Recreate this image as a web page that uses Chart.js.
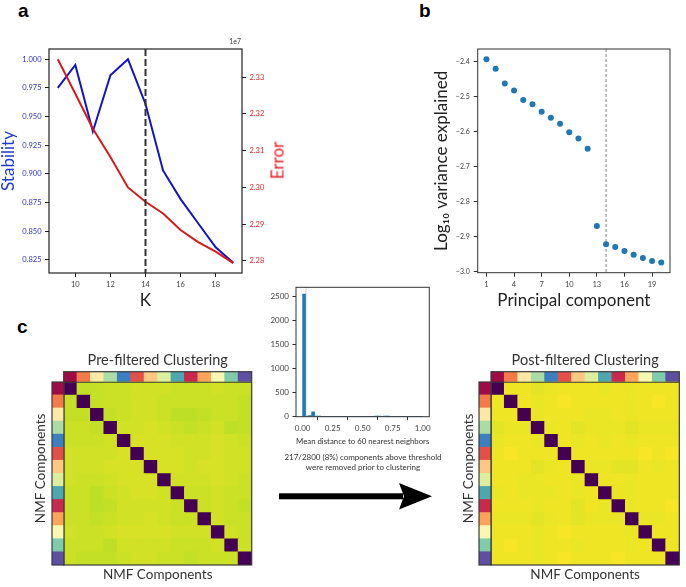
<!DOCTYPE html>
<html>
<head>
<meta charset="utf-8">
<script src="https://cdn.jsdelivr.net/npm/chart.js"></script>
<style>
  html, body { margin: 0; padding: 0; background: #fff; }
  #fig { position: relative; width: 686px; height: 587px; overflow: hidden; font-family: Lato, sans-serif; color: #222; }
  #fig canvas, #fig .txt, #fig svg { position: absolute; }
  .letter { font-family: 'Liberation Sans', Arial, sans-serif; font-weight: bold; font-size: 19px; line-height: 19px; color: #000; }
</style>
</head>
<body>
<div id="fig">
  <div class="txt letter" style="left:18px;top:1px">a</div>
  <div class="txt letter" style="left:419px;top:1px">b</div>
  <div class="txt letter" style="left:17px;top:317px">c</div>

  <canvas id="stab" width="300" height="285" style="left:0;top:30px"></canvas>
  <div class="txt" style="left:200px;top:37px;width:41px;text-align:right;font-size:7px;color:#444">1e7</div>
  <div class="txt" style="left:246px;top:150px;width:62px;text-align:center;font-size:17px;line-height:21px;color:#e41f26;transform:rotate(-90deg)">Error</div>

  <canvas id="pca" width="286" height="285" style="left:400px;top:30px"></canvas>

  <canvas id="hist" width="200" height="175" style="left:240px;top:275px"></canvas>
  <div class="txt" style="left:262px;top:453px;width:202px;text-align:center;font-size:8px;line-height:9.5px;color:#333">217/2800 (8%) components above threshold<br>were removed prior to clustering</div>

  <svg width="165" height="34" style="left:275px;top:480px">
    <rect x="4" y="13.3" width="124" height="6" fill="#000"/>
    <polygon points="124,3 157,16.3 124,29.6 129,16.3" fill="#000"/>
  </svg>

  <canvas id="preHeat" width="230" height="242" style="left:30px;top:345px"></canvas>
  <canvas id="preRows" width="14" height="185" style="left:51px;top:381px"></canvas>
  <canvas id="postHeat" width="231" height="242" style="left:455px;top:345px"></canvas>
  <canvas id="postRows" width="14" height="185" style="left:478px;top:381px"></canvas>
</div>

<script>
// ---- panel a: NMF stability / reconstruction error vs K
const kValues = [9, 10, 11, 12, 13, 14, 15, 16, 17, 18, 19];
const stability = [0.975, 0.995, 0.937, 0.986, 1.000, 0.961, 0.903, 0.878, 0.857, 0.836, 0.8225];
const reconError = [23349000, 23255000, 23160000, 23083000, 23000000, 22961000, 22929000, 22884000, 22851000, 22825000, 22794000];
const kTicks = [10, 12, 14, 16, 18];
const stabTicks = [0.825, 0.850, 0.875, 0.900, 0.925, 0.950, 0.975, 1.000];
const errTicks = [22800000, 22900000, 23000000, 23100000, 23200000, 23300000];
const kChosen = 14;

// ---- panel b: PCA log10 variance explained
const pcIndex = [1, 2, 3, 4, 5, 6, 7, 8, 9, 10, 11, 12, 13, 14, 15, 16, 17, 18, 19, 20];
const logVar = [-2.394, -2.421, -2.463, -2.483, -2.510, -2.522, -2.544, -2.561, -2.578, -2.602,
                -2.620, -2.649, -2.869, -2.921, -2.929, -2.940, -2.951, -2.960, -2.969, -2.973];
const pcTicks = [1, 4, 7, 10, 13, 16, 19];
const logVarTicks = [-3.0, -2.9, -2.8, -2.7, -2.6, -2.5, -2.4];
const pcCut = 14;

// ---- panel c: histogram of mean distance to nearest neighbours
const histCenters = [0.0125, 0.0375, 0.0625, 0.0875, 0.1125, 0.1375, 0.1625, 0.1875, 0.2125, 0.2375,
                     0.2625, 0.2875, 0.3125, 0.3375, 0.3625, 0.3875, 0.4125, 0.4375, 0.4625, 0.4875,
                     0.5125, 0.5375, 0.5625, 0.5875, 0.6125, 0.6375, 0.6625, 0.6875, 0.7125, 0.7375,
                     0.7625, 0.7875, 0.8125, 0.8375, 0.8625, 0.8875, 0.9125, 0.9375, 0.9625, 0.9875];
const histCounts = [2555, 8, 22, 100, 14, 4, 0, 0, 0, 0,
                    0, 0, 0, 0, 0, 0, 0, 0, 0, 0,
                    0, 0, 0, 0, 3, 5, 0, 4, 2, 0,
                    0, 0, 0, 0, 0, 0, 0, 0, 0, 0];
const histXTicks = [0, 0.25, 0.5, 0.75, 1.0];
const histYTicks = [0, 500, 1000, 1500, 2000, 2500];
const distThreshold = 0.028;

// ---- panel c: clustering distance matrices (x100), rows top to bottom
const componentIds = ['1', '2', '3', '4', '5', '6', '7', '8', '9', '10', '11', '12', '13', '14'];
const clusterColors = ['#9e0b45', '#f57a4a', '#fde9a6', '#acdca5', '#3b7fc0', '#e2504a', '#fdc882',
                       '#dcef9e', '#4ea7ae', '#c8294c', '#fca55a', '#f8f8b2', '#7fcbab', '#5e4fa2'];
const preMatrix = [
  [0, 91, 91, 92, 92, 93, 93, 93, 92, 92, 92, 93, 92, 92],
  [91, 0, 91, 92, 92, 93, 93, 92, 92, 92, 92, 92, 92, 91],
  [91, 91, 0, 91, 92, 93, 93, 92, 90, 90, 91, 92, 92, 91],
  [92, 92, 91, 0, 93, 93, 94, 93, 92, 91, 92, 93, 90, 91],
  [92, 92, 92, 93, 0, 94, 94, 94, 93, 93, 93, 94, 93, 92],
  [93, 93, 93, 93, 94, 0, 94, 94, 94, 93, 93, 94, 93, 93],
  [93, 93, 93, 94, 94, 94, 0, 94, 94, 93, 94, 94, 93, 93],
  [93, 92, 92, 93, 94, 94, 94, 0, 93, 93, 93, 94, 93, 92],
  [92, 92, 90, 92, 93, 94, 94, 93, 0, 92, 92, 93, 92, 92],
  [92, 92, 90, 91, 93, 93, 93, 93, 92, 0, 92, 93, 92, 91],
  [92, 92, 91, 92, 93, 93, 94, 93, 92, 92, 0, 93, 92, 92],
  [93, 92, 92, 93, 94, 94, 94, 94, 93, 93, 93, 0, 93, 92],
  [92, 92, 92, 90, 93, 93, 93, 93, 92, 92, 92, 93, 0, 92],
  [92, 91, 91, 91, 92, 93, 93, 92, 92, 91, 92, 92, 92, 0]
];
const postMatrix = [
  [0, 98, 98, 96, 97, 98, 98, 98, 97, 98, 97, 98, 98, 98],
  [98, 0, 98, 97, 98, 99, 98, 98, 98, 98, 97, 98, 99, 98],
  [98, 98, 0, 97, 98, 98, 98, 97, 97, 98, 97, 98, 98, 98],
  [96, 97, 97, 0, 97, 98, 96, 97, 97, 97, 96, 97, 97, 97],
  [97, 98, 98, 97, 0, 98, 97, 98, 97, 98, 97, 98, 98, 98],
  [98, 99, 98, 98, 98, 0, 98, 98, 98, 98, 98, 99, 98, 99],
  [98, 98, 98, 96, 97, 98, 0, 97, 97, 96, 96, 98, 97, 98],
  [98, 98, 97, 97, 98, 98, 97, 0, 98, 98, 97, 98, 98, 98],
  [97, 98, 97, 97, 97, 98, 97, 98, 0, 97, 97, 98, 98, 98],
  [98, 98, 98, 97, 98, 98, 96, 98, 97, 0, 97, 98, 98, 99],
  [97, 97, 97, 96, 97, 98, 96, 97, 97, 97, 0, 97, 97, 98],
  [98, 98, 98, 97, 98, 99, 98, 98, 98, 98, 97, 0, 98, 98],
  [98, 99, 98, 97, 98, 98, 97, 98, 98, 98, 97, 98, 0, 98],
  [98, 98, 98, 97, 98, 99, 98, 98, 98, 99, 98, 98, 98, 0]
];

Chart.defaults.font.family = 'Lato, sans-serif';
Chart.defaults.animation = false;
Chart.defaults.responsive = false;
Chart.defaults.devicePixelRatio = 1;
Chart.defaults.events = [];
Chart.defaults.plugins.legend.display = false;
Chart.defaults.plugins.tooltip.enabled = false;

const viridisStops = ['#440154', '#482475', '#414487', '#355f8d', '#2a788e', '#21918c',
                      '#22a884', '#44bf70', '#7ad151', '#bddf26', '#fde725'];
function viridis(t) {
  const p = Math.max(0, Math.min(1, t)) * 10;
  const i = Math.min(9, Math.floor(p)), f = p - i;
  const a = viridisStops[i], b = viridisStops[i + 1];
  const ch = (c, k) => parseInt(c.substr(1 + 2 * k, 2), 16);
  const mix = k => Math.round(ch(a, k) + (ch(b, k) - ch(a, k)) * f);
  return `rgb(${mix(0)},${mix(1)},${mix(2)})`;
}

const fixTicks = vals => s => { s.ticks = vals.map(v => ({ value: v })); };
const minus = s => s.replace('-', '\u2212');

// box around the plot area (matplotlib style)
const framePlugin = {
  id: 'frame',
  afterDraw(chart, args, opts) {
    const a = chart.chartArea, ctx = chart.ctx;
    ctx.save();
    ctx.strokeStyle = opts.color || '#222';
    ctx.lineWidth = opts.width || 1;
    ctx.strokeRect(a.left, a.top, a.right - a.left, a.bottom - a.top);
    if (opts.splitY !== undefined) {
      const y = chart.scales.y.getPixelForValue(opts.splitY);
      ctx.beginPath();
      ctx.moveTo(a.left, y);
      ctx.lineTo(a.right, y);
      ctx.stroke();
    }
    ctx.restore();
  }
};

// vertical reference line at an x value
function drawVline(chart, opts) {
  const a = chart.chartArea, ctx = chart.ctx;
  const x = chart.scales.x.getPixelForValue(opts.value);
  ctx.save();
  ctx.strokeStyle = opts.color;
  ctx.lineWidth = opts.width;
  ctx.setLineDash(opts.dash || []);
  ctx.beginPath();
  ctx.moveTo(x, a.top);
  ctx.lineTo(x, a.bottom);
  ctx.stroke();
  ctx.restore();
}
const vlinePlugin = {
  id: 'vline',
  beforeDatasetsDraw(chart, args, opts) { if (opts.behind) drawVline(chart, opts); },
  afterDatasetsDraw(chart, args, opts) { if (!opts.behind) drawVline(chart, opts); }
};

// ---- panel a
new Chart(document.getElementById('stab'), {
  type: 'line',
  data: {
    datasets: [
      {
        label: 'Error',
        data: kValues.map((k, i) => ({ x: k, y: reconError[i] })),
        yAxisID: 'y2', borderColor: '#d81a1a', borderWidth: 2, pointRadius: 0, tension: 0, order: 0
      },
      {
        label: 'Stability',
        data: kValues.map((k, i) => ({ x: k, y: stability[i] })),
        yAxisID: 'y', borderColor: '#1212c8', borderWidth: 2, pointRadius: 0, tension: 0, order: 1
      }
    ]
  },
  options: {
    layout: { padding: { top: 19 } },
    plugins: {
      frame: { color: '#222', width: 1.2 },
      vline: { value: kChosen, color: '#333', width: 2, dash: [7, 3] }
    },
    scales: {
      x: {
        type: 'linear', min: 8.5, max: 19.5,
        afterBuildTicks: fixTicks(kTicks),
        afterFit: s => { s.height = 42; },
        ticks: { font: { size: 7.5 }, color: '#444', padding: 3.5, autoSkip: false, maxRotation: 0 },
        grid: { drawOnChartArea: false, tickLength: 4, color: '#222' },
        border: { display: false },
        title: { display: true, text: 'K', color: '#222', font: { size: 17, lineHeight: 1.2 }, padding: { top: 0, bottom: 4.7 } }
      },
      y: {
        position: 'left', min: 0.8136, max: 1.0089,
        afterBuildTicks: fixTicks(stabTicks),
        afterFit: s => { s.width = 49; },
        ticks: { font: { size: 7.5 }, color: '#3030d0', padding: 3.5, callback: v => v.toFixed(3) },
        grid: { drawOnChartArea: false, tickLength: 4, color: '#222' },
        border: { display: false },
        title: { display: true, text: 'Stability', color: '#1f3ad0', font: { size: 17, lineHeight: 1 }, padding: { top: 0, bottom: 0 } }
      },
      y2: {
        position: 'right', min: 22767000, max: 23377000,
        afterBuildTicks: fixTicks(errTicks),
        afterFit: s => { s.width = 58; },
        ticks: { font: { size: 7.5 }, color: '#e0262b', padding: 3.5, callback: v => (v / 1e7).toFixed(2) },
        grid: { drawOnChartArea: false, tickLength: 4, color: '#222' },
        border: { display: false }
      }
    }
  },
  plugins: [framePlugin, vlinePlugin]
});

// ---- panel b
new Chart(document.getElementById('pca'), {
  type: 'scatter',
  data: {
    datasets: [{
      data: pcIndex.map((p, i) => ({ x: p, y: logVar[i] })),
      backgroundColor: '#1f77b4', borderWidth: 0, pointRadius: 3
    }]
  },
  options: {
    layout: { padding: { top: 19, right: 16 } },
    plugins: {
      frame: { color: '#333', width: 1 },
      vline: { value: pcCut, color: '#888', width: 1, dash: [3, 2], behind: true }
    },
    scales: {
      x: {
        type: 'linear', min: 0.05, max: 20.95,
        afterBuildTicks: fixTicks(pcTicks),
        afterFit: s => { s.height = 42.3; },
        ticks: { font: { size: 7.5 }, color: '#444', padding: 3.8, autoSkip: false, maxRotation: 0 },
        grid: { drawOnChartArea: false, tickLength: 4, color: '#333' },
        border: { display: false },
        title: { display: true, text: 'Principal component', color: '#222', font: { size: 17, lineHeight: 1.2 }, padding: { top: 0, bottom: 4.7 } }
      },
      y: {
        min: -3.002, max: -2.365,
        afterBuildTicks: fixTicks(logVarTicks),
        afterFit: s => { s.width = 77.7; },
        ticks: { font: { size: 7 }, color: '#444', padding: 4, callback: v => minus(v.toFixed(1)) },
        grid: { drawOnChartArea: false, tickLength: 4, color: '#333' },
        border: { display: false },
        title: { display: true, text: 'Log\u2081\u2080 variance explained', color: '#222', font: { size: 17, lineHeight: 1.2 }, padding: { top: 31, bottom: 0 } }
      }
    }
  },
  plugins: [framePlugin, vlinePlugin]
});

// ---- panel c: histogram
new Chart(document.getElementById('hist'), {
  type: 'bar',
  data: {
    datasets: [{
      data: histCenters.map((c, i) => ({ x: c, y: histCounts[i] })),
      backgroundColor: '#1f77b4', borderWidth: 0, barPercentage: 1, categoryPercentage: 1
    }]
  },
  options: {
    layout: { padding: { top: 12.3, right: 10.7 } },
    plugins: {
      frame: { color: '#333', width: 1 },
      vline: { value: distThreshold, color: '#999', width: 1, dash: [1, 1] }
    },
    scales: {
      x: {
        type: 'linear', offset: false, min: -0.055, max: 1.055,
        afterBuildTicks: fixTicks(histXTicks),
        afterFit: s => { s.height = 33.3; },
        ticks: { font: { size: 8 }, color: '#444', padding: 3.3, autoSkip: false, maxRotation: 0, callback: v => v.toFixed(2) },
        grid: { drawOnChartArea: false, tickLength: 3.5, color: '#333' },
        border: { display: false },
        title: { display: true, text: 'Mean distance to 60 nearest neighbors', color: '#333', font: { size: 8, lineHeight: 1.2 }, padding: { top: 0, bottom: 4.2 } }
      },
      y: {
        min: 0, max: 2696,
        afterBuildTicks: fixTicks(histYTicks),
        afterFit: s => { s.width = 56; },
        ticks: { font: { size: 8 }, color: '#444', padding: 3.5, callback: v => String(v) },
        grid: { drawOnChartArea: false, tickLength: 3.5, color: '#333' },
        border: { display: false }
      }
    }
  },
  plugins: [framePlugin, vlinePlugin]
});

// ---- panel c: heatmaps (stacked bars, one dataset per row) with cluster colour bar on top
const barDepth = 0.81;
function heatmap(id, matrix, title, yWidth, rightPad, titlePad, yTitlePad) {
  const datasets = matrix.slice().reverse().map(row => ({
    data: row.map(() => 1),
    backgroundColor: row.map(v => viridis(v / 100)),
    borderWidth: 0, barPercentage: 1, categoryPercentage: 1, inflateAmount: 0.5
  }));
  datasets.push({
    data: clusterColors.map(() => barDepth),
    backgroundColor: clusterColors,
    borderWidth: 0, barPercentage: 1, categoryPercentage: 1, inflateAmount: 0.5
  });
  new Chart(document.getElementById(id), {
    type: 'bar',
    data: { labels: componentIds, datasets },
    options: {
      layout: { padding: { right: rightPad } },
      plugins: {
        title: {
          display: true, text: title, color: '#333', fullSize: false,
          font: { size: 14.5, weight: 'normal', lineHeight: 1.2 }, padding: titlePad
        },
        frame: { color: '#3a3a3a', width: 1.2, splitY: matrix.length }
      },
      scales: {
        x: {
          stacked: true,
          afterFit: s => { s.height = 22; },
          ticks: { display: false }, grid: { display: false }, border: { display: false },
          title: { display: true, text: 'NMF Components', color: '#333', font: { size: 13.5, lineHeight: 1.2 }, padding: { top: 0, bottom: 3.9 } }
        },
        y: {
          stacked: true, min: 0, max: matrix.length + barDepth,
          afterFit: s => { s.width = yWidth; },
          ticks: { display: false }, grid: { display: false }, border: { display: false },
          title: { display: true, text: 'NMF Components', color: '#333', font: { size: 13.5, lineHeight: 1.2 }, padding: { top: yTitlePad, bottom: 0 } }
        }
      }
    },
    plugins: [framePlugin]
  });
}

function rowBar(id) {
  const datasets = clusterColors.slice().reverse().map(c => ({
    data: [1], backgroundColor: c, borderWidth: 0, barPercentage: 1, categoryPercentage: 1, inflateAmount: 0.5
  }));
  new Chart(document.getElementById(id), {
    type: 'bar',
    data: { labels: ['rows'], datasets },
    options: {
      layout: { padding: 1 },
      plugins: { frame: { color: '#3a3a3a', width: 1.2 } },
      scales: {
        x: { display: false, stacked: true },
        y: { display: false, stacked: true, min: 0, max: clusterColors.length }
      }
    },
    plugins: [framePlugin]
  });
}

heatmap('preHeat', preMatrix, 'Pre-filtered Clustering', 33.7, 8.3, { top: 6.6, bottom: 2.7 }, 2.6);
heatmap('postHeat', postMatrix, 'Post-filtered Clustering', 36, 6.7, { top: 7.0, bottom: 2.3 }, 5.9);
rowBar('preRows');
rowBar('postRows');
</script>
</body>
</html>
